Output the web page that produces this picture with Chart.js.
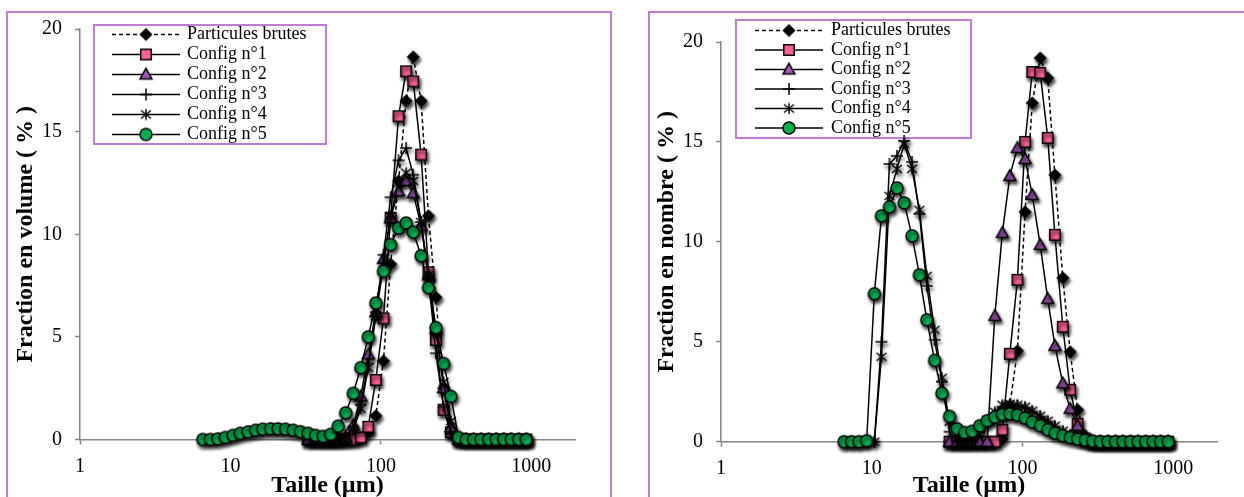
<!DOCTYPE html>
<html><head><meta charset="utf-8">
<script src="https://cdn.jsdelivr.net/npm/chart.js"></script>
<style>
html,body{margin:0;padding:0;background:#fff;width:1244px;height:497px;overflow:hidden;}
.frame{position:absolute;border:2px solid #C17AD6;box-sizing:border-box;}
#f1{left:6px;top:11px;width:606px;height:520px;}
#f2{left:648px;top:11px;width:700px;height:520px;}
.wrap{position:absolute;top:0;height:497px;}
#w1{left:0;width:640px;}
#w2{left:640px;width:604px;}
canvas{display:block;}
</style></head>
<body>
<div class="frame" id="f1"></div>
<div class="frame" id="f2"></div>
<div class="wrap" id="w1"><canvas id="c1" width="640" height="497"></canvas></div>
<div class="wrap" id="w2"><canvas id="c2" width="604" height="497"></canvas></div>
<script>
// ---- data ----
const sizes = [6.55, 7.35, 8.24, 9.25, 10.4, 11.6, 13.1, 14.7, 16.4, 18.5, 20.7, 23.2, 26.1, 29.2, 32.8, 36.8, 41.3, 46.3, 52.0, 58.3, 65.5, 73.5, 82.4, 92.5, 104, 116, 131, 147, 164, 185, 207, 232, 261, 292, 328, 368, 413, 463, 520, 583, 655, 735, 824, 925];
const xTickValues = [1, 10, 100, 1000];
const seriesLabels = ['Particules brutes', 'Config n\u00B01', 'Config n\u00B02', 'Config n\u00B03', 'Config n\u00B04', 'Config n\u00B05'];
const N = null;
// Fraction en volume (%)
const volBrutes = [N,N,N,N,N,N,N,N,N,N,N,N,N,N, 0,0,0,0,0,0, 0.05,0.1,0.35,1.16,3.83,8.55,12.6,16.5,18.64,16.5,10.9,6.93,2.5,0.35, 0,0,0,0,0,0,0,0,0,0];
const volC1 = [N,N,N,N,N,N,N,N,N,N,N,N,N,N, 0,0,0,0,0,0,0, 0.1,0.62,2.9,5.9,10.8,15.75,17.94,17.45,13.88,8.15,4.85,1.45,0.35, 0,0,0,0,0,0,0,0,0,0];
const volC2 = [N,N,N,N,N,N,N,N,N,N,N,N,N,N, 0,0,0,0,0, 0.1,0.7,2.1,4.15,6.2,8.8,10.8,12.1,12.6,12.0,10.4,8.0,5.4,2.5,0.6, 0,0,0,0,0,0,0,0,0,0];
const volC3 = [N,N,N,N,N,N,N,N,N,N,N,N,N,N,N, 0,0,0,0, 0.2,0.6,1.7,3.7,6.2,9.0,11.8,13.6,14.2,12.9,10.6,7.9,4.2,1.6,0.3, 0,0,0,0,0,0,0,0,0,0];
const volC4 = [N,N,N,N,N,N,N,N,N,N,N,N,N,N,N, 0,0,0,0, 0.15,0.5,1.5,3.5,6.0,8.5,10.9,12.5,13.0,12.6,10.6,8.0,5.3,2.8,0.9,0.1, 0,0,0,0,0,0,0,0,0];
const volC5 = [0,0,0.03,0.1,0.2,0.3,0.37,0.45,0.5,0.52,0.52,0.5,0.45,0.38,0.3,0.2,0.15,0.25,0.65,1.3,2.25,3.5,5.0,6.65,8.2,9.5,10.3,10.55,10.1,8.95,7.4,5.45,3.7,2.1,0.1, 0,0,0,0,0,0,0,0,0];
// Fraction en nombre (%)
const numBrutes = [N,N,N,N,N,N,N,N,N,N,N,N,N,N, 0,0,0,0,0,0,0, 0.15,1.8,4.55,11.5,16.95,19.2,18.2,13.35,8.2,4.5,1.6,0.3, 0,0,0,0,0,0,0,0,0,0,0];
const numC1 = [N,N,N,N,N,N,N,N,N,N,N,N,N,N, 0,0,0,0,0,0,0, 0.6,4.4,8.1,15.0,18.5,18.45,15.2,10.35,5.75,2.6,0.9,0.15, 0,0,0,0,0,0,0,0,0,0,0];
const numC2 = [N,N,N,N,N,N,N,N,N,N,N,N,N,N, 0,0,0,0,0,0, 6.3,10.45,13.3,14.7,14.15,12.35,9.85,7.15,4.8,2.92,1.65,0.8,0.1, 0,0,0,0,0,0,0,0,0,0,0];
const numC3 = [0,0,0,0,0, 5.0,13.9,14.3,15.05,14.0,11.4,7.8,5.1,3.0,0.5,0,0,0.1,0.5,1.0,1.4,1.75,1.85,1.8,1.7,1.5,1.25,1.0,0.75,0.5,0.3,0.15,0.05, 0,0,0,0,0,0,0,0,0,0,0];
const numC4 = [0,0,0,0,0, 4.25,12.3,13.65,14.9,13.65,11.6,8.3,5.6,3.2,1.0,0.1,0,0.15,0.6,1.1,1.5,1.85,1.9,1.85,1.75,1.55,1.3,1.05,0.8,0.55,0.35,0.18,0.06, 0,0,0,0,0,0,0,0,0,0,0];
const numC5 = [0,0,0,0.05,7.4,11.3,11.75,12.7,11.95,10.3,8.35,6.1,4.07,2.43,1.27,0.65,0.46,0.52,0.8,1.05,1.23,1.36,1.39,1.33,1.18,0.98,0.8,0.6,0.43,0.3,0.21,0.13,0.08,0.03, 0,0,0,0,0,0,0,0,0,0];

// ---- styles ----
const PURPLE = '#C17AD6';
const AXIS = '#868686';
const fills = ['#000000', '#FF5F91', '#AA55C0', null, null, '#00B050'];
const shapes = ['diamond', 'square', 'triangle', 'plus', 'star', 'circle'];

Chart.defaults.font.family = "'Liberation Serif', 'Times New Roman', serif";
Chart.defaults.color = '#000';

function markerCanvas(shape, fill, shadow) {
  const S = 30, m = S / 2;
  const c = document.createElement('canvas'); c.width = S; c.height = S;
  const g = c.getContext('2d');
  if (shadow) { g.shadowColor = 'rgba(0,0,0,0.8)'; g.shadowBlur = 3.5; g.shadowOffsetX = 1.5; g.shadowOffsetY = 3; }
  g.lineWidth = 1.5; g.strokeStyle = '#000'; g.fillStyle = fill || '#000';
  g.beginPath();
  switch (shape) {
    case 'diamond': g.moveTo(m, m - 5.5); g.lineTo(m + 5.5, m); g.lineTo(m, m + 5.5); g.lineTo(m - 5.5, m); g.closePath(); g.fill(); g.stroke(); break;
    case 'square': g.rect(m - 5.2, m - 5.2, 10.4, 10.4); g.fill(); g.stroke(); break;
    case 'triangle': g.moveTo(m, m - 6.2); g.lineTo(m + 6, m + 4.6); g.lineTo(m - 6, m + 4.6); g.closePath(); g.fill(); g.stroke(); break;
    case 'plus': g.moveTo(m - 6, m); g.lineTo(m + 6, m); g.moveTo(m, m - 6); g.lineTo(m, m + 6); g.stroke(); break;
    case 'star': g.moveTo(m, m - 5.5); g.lineTo(m, m + 5.5); g.moveTo(m - 5, m - 4); g.lineTo(m + 5, m + 4); g.moveTo(m - 5, m + 4); g.lineTo(m + 5, m - 4); g.stroke(); break;
    case 'circle': g.arc(m, m, 6, 0, Math.PI * 2); g.fill(); g.stroke(); break;
  }
  return c;
}
const plotMarkers = shapes.map((s, i) => markerCanvas(s, fills[i], true));
const legendMarkers = shapes.map((s, i) => markerCanvas(s, fills[i], false));

function makeDataset(i, vals) {
  return {
    label: seriesLabels[i],
    data: sizes.map((s, k) => ({ x: s, y: vals[k] })),
    borderColor: '#000', borderWidth: 1.5,
    borderDash: i === 0 ? [4, 3] : [],
    pointStyle: plotMarkers[i], pointRadius: 6, pointHoverRadius: 6,
    fill: false, tension: 0, spanGaps: false, clip: false,
    order: 5 - i
  };
}

const boxLegend = {
  id: 'boxLegend',
  beforeDatasetsDraw(chart, args, o) {
    const ctx = chart.ctx;
    ctx.save();
    ctx.fillStyle = '#fff'; ctx.fillRect(o.x, o.y, o.w, o.h);
    ctx.strokeStyle = PURPLE; ctx.lineWidth = 2; ctx.strokeRect(o.x, o.y, o.w, o.h);
    ctx.font = "18px 'Liberation Serif', 'Times New Roman', serif";
    ctx.textBaseline = 'middle'; ctx.textAlign = 'left';
    chart.data.datasets.forEach((d, i) => {
      const y = o.y + o.first + i * o.step;
      ctx.strokeStyle = '#000'; ctx.lineWidth = 1.5;
      ctx.setLineDash(i === 0 ? [4, 3] : []);
      ctx.beginPath(); ctx.moveTo(o.x + o.l1, y); ctx.lineTo(o.x + o.l2, y); ctx.stroke();
      ctx.setLineDash([]);
      const img = legendMarkers[i];
      ctx.drawImage(img, o.x + o.mk - img.width / 2, y - img.height / 2);
      ctx.fillStyle = '#000';
      ctx.fillText(d.label, o.x + o.tx, y);
    });
    ctx.restore();
  }
};

function makeChart(id, sets, cfg) {
  return new Chart(document.getElementById(id), {
    type: 'line',
    data: { datasets: sets.map((v, i) => makeDataset(i, v)) },
    plugins: [boxLegend],
    options: {
      responsive: false, animation: false, devicePixelRatio: 1,
      layout: { padding: cfg.padding },
      plugins: { legend: { display: false }, tooltip: { enabled: false }, boxLegend: cfg.legend },
      scales: {
        x: {
          type: 'logarithmic', min: 1, max: 1950,
          afterBuildTicks: s => { s.ticks = xTickValues.map(v => ({ value: v })); },
          ticks: { callback: v => String(v), font: { size: 20 }, color: '#000', padding: 10.5, maxRotation: 0, autoSkip: false },
          grid: { drawOnChartArea: false, drawTicks: true, tickLength: 5, tickColor: AXIS, tickWidth: 1.5 },
          border: { display: true, color: AXIS, width: 1.5 },
          title: { display: true, text: 'Taille (\u00B5m)', color: '#000', font: { size: 24, weight: 'bold', lineHeight: 1 }, padding: { top: 0, bottom: -1 } },
          afterFit: s => { s.height = cfg.xH; }
        },
        y: {
          type: 'linear', min: 0, max: 20,
          ticks: { stepSize: 5, font: { size: 20 }, color: '#000', padding: 13 },
          grid: { drawOnChartArea: false, drawTicks: true, tickLength: 5, tickColor: AXIS, tickWidth: 1.5 },
          border: { display: true, color: AXIS, width: 1.5 },
          title: { display: true, text: cfg.yTitle, color: '#000', font: { size: 24, weight: 'bold', lineHeight: 1 }, padding: { top: cfg.yTitlePad, bottom: 0 } },
          afterFit: s => { s.width = cfg.yW; }
        }
      }
    }
  });
}

makeChart('c1', [volBrutes, volC1, volC2, volC3, volC4, volC5], {
  padding: { left: 0, top: 29, right: 65, bottom: 0 },
  xH: 57.5, yW: 80, yTitlePad: 14,
  yTitle: 'Fraction en volume ( % )',
  legend: { x: 94, y: 25, w: 232, h: 119, first: 9.5, step: 20, l1: 18, l2: 86, mk: 52, tx: 93 }
});
makeChart('c2', [numBrutes, numC1, numC2, numC3, numC4, numC5], {
  padding: { left: 0, top: 42, right: 27, bottom: 0 },
  xH: 55.3, yW: 81, yTitlePad: 15,
  yTitle: 'Fraction en nombre ( % )',
  legend: { x: 96, y: 20, w: 235, h: 118, first: 10.5, step: 19.5, l1: 19, l2: 87, mk: 53, tx: 95 }
});
</script>
</body></html>
